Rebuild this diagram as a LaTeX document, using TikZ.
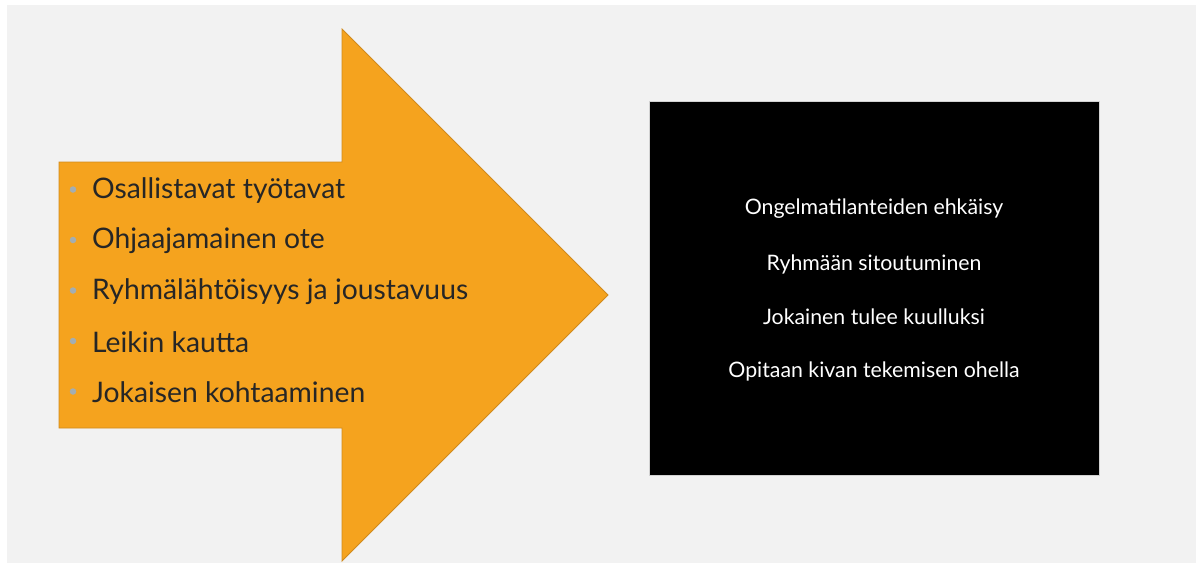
\documentclass[tikz,border=0pt]{standalone}
\usepackage{fontspec}
\setmainfont{Lato}
\definecolor{slidegray}{HTML}{F2F2F2}
\definecolor{arroworange}{HTML}{F5A31E}
\definecolor{arrowedge}{HTML}{D08A1C}
\definecolor{itemtext}{HTML}{262626}
\definecolor{bulletgray}{HTML}{A3AEB3}
\tikzset{
	item/.style={anchor=west, text=itemtext, font=\fontsize{28.3}{32}\selectfont, inner sep=0pt},
	bulletdot/.style={circle, fill=bulletgray, inner sep=0pt, minimum size=6.5pt},
	outcome/.style={text=white, font=\fontsize{21.3}{25}\selectfont, inner sep=0pt}
}
\begin{document}
\begin{tikzpicture}[x=1pt, y=-1pt]
	\useasboundingbox (0,0) rectangle (1196,563);
	%slide background
	\fill[white] (0,0) rectangle (1196,563);
	\fill[slidegray] (7,5) rectangle (1196,563);
	
	%arrow
	\draw[fill=arroworange, draw=arrowedge, line width=0.8pt, line join=miter]
		(59,162) -- (342,162) -- (342,29) -- (608,295) -- (342,561) -- (342,428) -- (59,428) -- cycle;
	
	%list on the arrow
	\foreach \txt [count=\i] in {Osallistavat työtavat, Ohjaajamainen ote, Ryhmälähtöisyys ja joustavuus, Leikin kautta, Jokaisen kohtaaminen}{
		\node[bulletdot] (dot\i) at (73, 139+50.5*\i) {};
		\node[item] (item\i) at (92, 140+50.5*\i) {\txt};
	}
	
	%black box
	\fill[black] (649,101) rectangle (1099,475);
	\draw[lightgray!70, line width=0.6pt] (649,101) rectangle (1099,475);
	\node[outcome] (out1) at (874, 209) {Ongelmatilanteiden ehkäisy};
	\node[outcome] (out2) at (874, 264) {Ryhmään sitoutuminen};
	\node[outcome] (out3) at (874, 317) {Jokainen tulee kuulluksi};
	\node[outcome] (out4) at (874, 371) {Opitaan kivan tekemisen ohella};
\end{tikzpicture}
\end{document}
